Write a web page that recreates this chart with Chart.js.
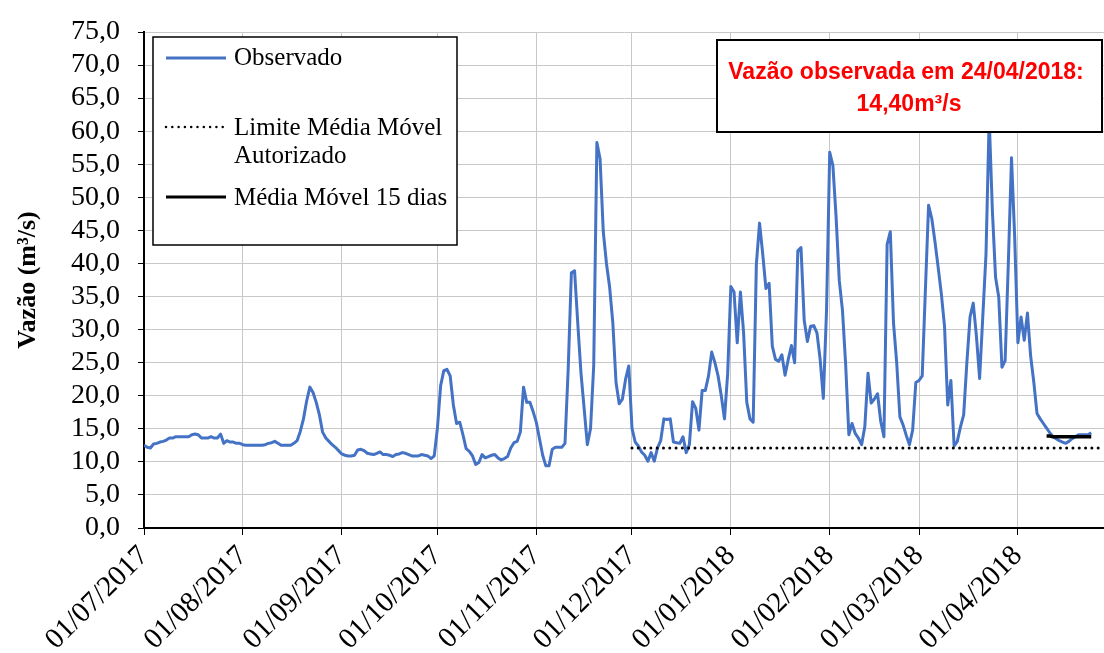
<!DOCTYPE html>
<html>
<head>
<meta charset="utf-8">
<script src="https://cdn.jsdelivr.net/npm/chart.js@4.4.1/dist/chart.umd.min.js"></script>
<style>
html,body{margin:0;padding:0;background:#fff;}
#wrap{width:1104px;height:653px;position:relative;}
</style>
</head>
<body>
<div id="wrap"><canvas id="c"></canvas></div>
<script>
// ---------- DATA ----------
const dataInicial = [2017, 6, 1];      // 01/07/2017 (month 0-based)
const totalDias = 302;                  // axis runs to 28/04/2018

const rotulosEixoX = ['01/07/2017','01/08/2017','01/09/2017','01/10/2017','01/11/2017',
  '01/12/2017','01/01/2018','01/02/2018','01/03/2018','01/04/2018'];
const rotulosEixoY = [0,5,10,15,20,25,30,35,40,45,50,55,60,65,70,75];

// Observed flow, one value per day from 01/07/2017 to 24/04/2018
const observado = [
  12.5,12.2,12.1,12.7,12.8,13.0,13.1,13.3,13.6,13.6,
  13.8,13.8,13.8,13.8,13.8,14.1,14.2,14.1,13.6,13.6,
  13.6,13.8,13.6,13.6,14.2,12.8,13.2,13.0,13.0,12.8,
  12.8,12.6,12.5,12.5,12.5,12.5,12.5,12.5,12.6,12.8,
  12.9,13.1,12.8,12.5,12.5,12.5,12.5,12.8,13.2,14.6,
  16.5,19.2,21.3,20.5,19.0,17.1,14.5,13.6,13.1,12.6,
  12.2,11.7,11.2,11.0,10.9,10.9,11.0,11.8,11.9,11.7,
  11.3,11.2,11.1,11.3,11.5,11.1,11.1,11.0,10.8,11.1,
  11.2,11.4,11.3,11.1,10.9,10.9,10.9,11.1,11.0,10.9,
  10.5,10.9,15.1,21.5,23.8,24.0,23.0,18.6,15.8,16.0,
  14.1,12.0,11.6,10.9,9.6,9.9,11.1,10.6,10.8,11.0,
  11.1,10.6,10.3,10.5,10.8,12.1,12.9,13.1,14.5,21.3,
  19.0,19.0,17.6,16.0,13.5,11.0,9.4,9.4,11.9,12.2,
  12.2,12.2,12.8,24.0,38.6,38.9,31.0,23.5,18.1,12.6,
  15.0,24.5,58.3,55.8,44.8,40.0,36.4,31.0,22.0,18.8,
  19.5,22.5,24.5,15.1,13.0,12.4,11.5,11.0,10.1,11.4,
  10.1,12.1,13.2,16.5,16.4,16.5,13.0,12.9,12.8,13.8,
  11.4,12.6,19.1,18.1,14.8,20.8,20.8,23.0,26.6,25.0,
  23.0,20.0,16.5,23.3,36.5,35.7,28.0,35.7,29.5,19.0,
  16.5,16.0,39.9,46.1,41.4,36.2,37.0,27.5,25.5,25.2,
  26.2,23.1,25.5,27.6,25.0,41.9,42.4,31.4,28.2,30.5,
  30.6,29.5,25.5,19.6,32.9,56.8,54.8,47.0,37.4,32.9,
  24.7,14.1,15.8,14.3,13.6,12.6,15.3,23.4,18.9,19.5,
  20.3,16.1,13.8,42.9,44.8,31.0,25.0,16.8,15.6,14.0,
  12.6,14.8,22.0,22.3,23.0,36.0,48.8,46.8,43.3,39.4,
  35.4,30.5,18.6,22.3,12.4,13.1,15.3,17.1,25.0,31.9,
  34.0,29.0,22.6,32.0,41.4,62.0,48.0,37.9,34.9,24.3,
  25.3,40.0,56.0,43.9,28.0,31.9,28.4,32.5,26.0,22.0,
  17.3,16.5,15.8,15.1,14.4,13.8,13.5,13.2,13.0,12.8,
  13.1,13.5,13.8,14.1,14.1,14.1,14.1,14.4
];

// Authorized moving-average limit
const limiteDatas = ['01/12/2017','28/04/2018'];
const limiteValores = [12.1, 12.1];

// 15-day moving average
const mediaMovelInicio = '10/04/2018';
const mediaMovelValores = [13.9,13.9,13.8,13.8,13.8,13.8,13.8,13.8,13.8,13.8,13.8,13.8,13.8,13.8,13.8];

const anotacaoLinhas = ['Vazão observada em 24/04/2018:', '14,40m³/s'];

// ---------- BUILD ----------
const pad = n => String(n).padStart(2,'0');
const datas = [];
const t0 = Date.UTC(dataInicial[0], dataInicial[1], dataInicial[2]);
for (let i = 0; i < totalDias; i++) {
  const d = new Date(t0 + i*86400000);
  datas.push(pad(d.getUTCDate()) + '/' + pad(d.getUTCMonth()+1) + '/' + d.getUTCFullYear());
}
const idx = s => datas.indexOf(s);
const ptsObservado = observado.map((v,i) => ({x:i, y:v}));
const ptsLimite = limiteDatas.map((d,i) => ({x:idx(d), y:limiteValores[i]}));
const mm0 = idx(mediaMovelInicio);
const ptsMedia = mediaMovelValores.map((v,i) => ({x:mm0+i, y:v}));
const tickX = rotulosEixoX.map(idx);

const SERIF = "'Liberation Serif','Times New Roman',serif";

const overlayPlugin = {
  id: 'overlay',
  afterDraw(chart) {
    const ctx = chart.ctx;
    const ds = chart.data.datasets;
    ctx.save();
    // legend box
    ctx.fillStyle = '#fff';
    ctx.fillRect(153, 37, 304, 208);
    ctx.strokeStyle = '#000';
    ctx.lineWidth = 1.5;
    ctx.strokeRect(153, 37, 304, 208);
    const items = [
      {d: ds[0], y: 58, lines: [ds[0].label], base: [65]},
      {d: ds[1], y: 127, lines: ['Limite Média Móvel', 'Autorizado'], base: [135, 163]},
      {d: ds[2], y: 197, lines: [ds[2].label], base: [205]},
    ];
    items.forEach(it => {
      ctx.beginPath();
      ctx.strokeStyle = it.d.borderColor;
      ctx.lineWidth = it.d === ds[1] ? 2.5 : 3;
      ctx.lineCap = it.d.borderCapStyle || 'butt';
      ctx.setLineDash(it.d.borderDash || []);
      ctx.moveTo(166, it.y); ctx.lineTo(226, it.y);
      ctx.stroke();
      ctx.setLineDash([]);
      ctx.fillStyle = '#000';
      ctx.font = '25px ' + SERIF;
      ctx.textAlign = 'left';
      ctx.textBaseline = 'alphabetic';
      it.lines.forEach((t,k) => ctx.fillText(t, 234, it.base[k]));
    });
    // annotation box
    ctx.fillStyle = '#fff';
    ctx.fillRect(717, 40, 385, 92);
    ctx.strokeStyle = '#000';
    ctx.lineWidth = 2;
    ctx.strokeRect(717, 40, 385, 92);
    ctx.fillStyle = '#ff0000';
    ctx.font = "bold 23px 'Liberation Sans', Arial, sans-serif";
    ctx.textAlign = 'center';
    ctx.fillText(anotacaoLinhas[0], 906, 79);
    ctx.fillText(anotacaoLinhas[1], 909, 111);
    ctx.restore();
  }
};

new Chart(document.getElementById('c'), {
  type: 'line',
  data: {
    datasets: [
      {label: 'Observado', data: ptsObservado, borderColor: '#4472C4', borderWidth: 3,
       pointRadius: 0, tension: 0, order: 3, borderJoinStyle: 'round'},
      {label: 'Limite Média Móvel Autorizado', data: ptsLimite, borderColor: '#000', borderWidth: 3,
       borderDash: [0, 6.3], borderCapStyle: 'round', pointRadius: 0, order: 2},
      {label: 'Média Móvel 15 dias', data: ptsMedia, borderColor: '#000', borderWidth: 3.5,
       pointRadius: 0, order: 1}
    ]
  },
  options: {
    responsive: true,
    maintainAspectRatio: false,
    animation: false,
    events: [],
    layout: {padding: {top: 24, right: 0, left: 0, bottom: 0}},
    plugins: {legend: {display: false}, tooltip: {enabled: false}},
    scales: {
      x: {
        type: 'linear', min: 0, max: totalDias - 1,
        afterBuildTicks: s => { s.ticks = tickX.map(v => ({value: v})); },
        afterFit: s => { s.height = 125; },
        ticks: {
          autoSkip: false, maxRotation: 45, minRotation: 45, color: '#000', padding: 4,
          font: {family: SERIF, size: 29},
          callback: v => datas[v]
        },
        grid: {color: '#c8c8c8', lineWidth: 1, tickColor: '#000', tickLength: 7, drawOnChartArea: true},
        border: {color: '#000', width: 2}
      },
      y: {
        min: 0, max: 75,
        afterBuildTicks: s => { s.ticks = rotulosEixoY.map(v => ({value: v})); },
        afterFit: s => { s.width = 144; },
        ticks: {
          autoSkip: false, color: '#000', padding: 18, font: {family: SERIF, size: 28, lineHeight: 1},
          callback: v => v.toFixed(1).replace('.', ',')
        },
        grid: {color: '#c8c8c8', lineWidth: 1, tickColor: '#000', tickLength: 6},
        border: {color: '#000', width: 2},
        title: {display: true, text: 'Vazão (m³/s)', color: '#000',
          font: {family: SERIF, size: 26, weight: 'bold'}, padding: {top: 13, bottom: 0}}
      }
    }
  },
  plugins: [overlayPlugin]
});
</script>
</body>
</html>
